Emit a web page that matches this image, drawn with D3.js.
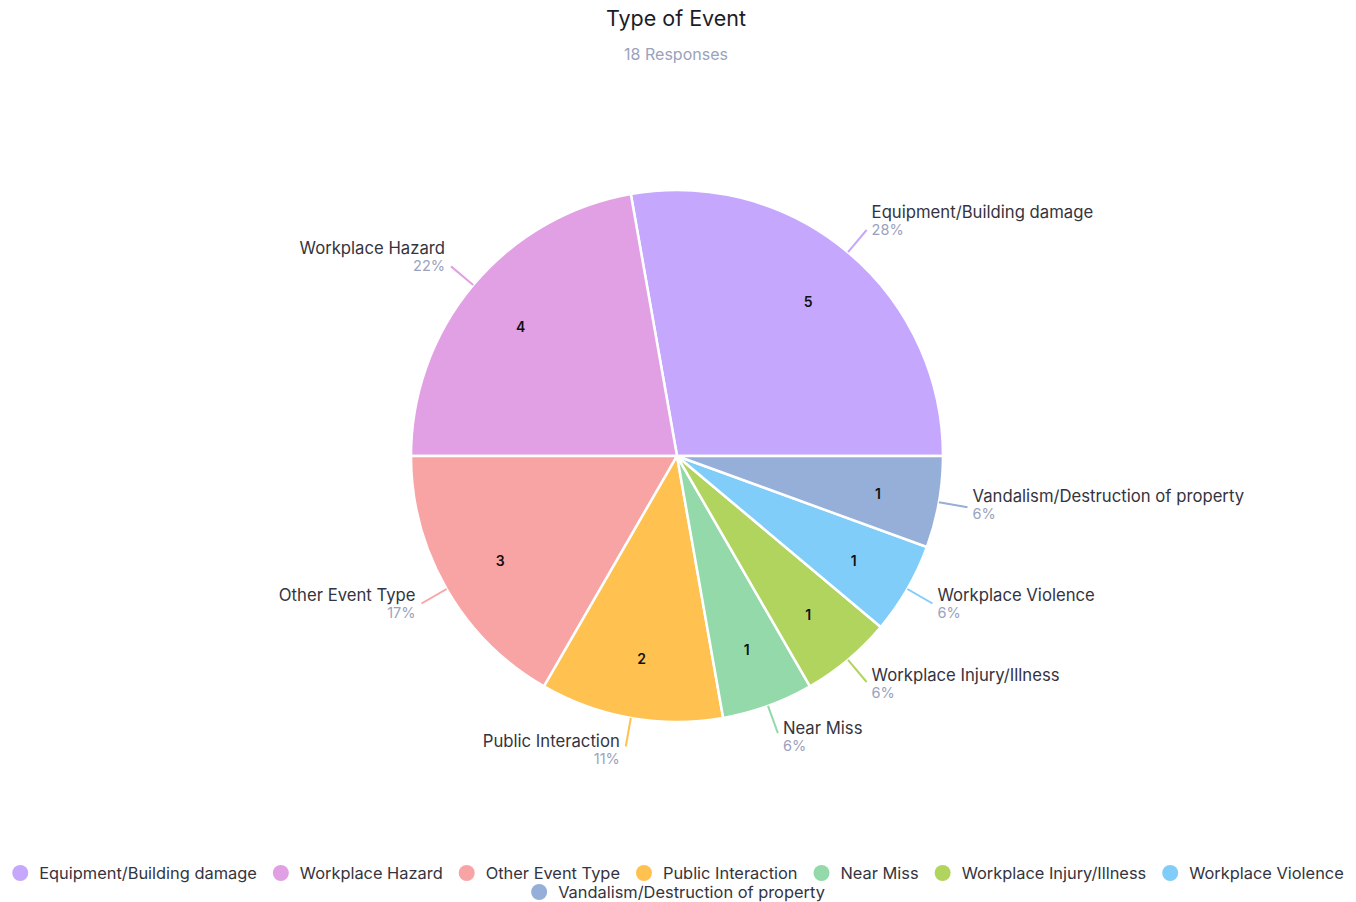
<!DOCTYPE html>
<html><head><meta charset="utf-8">
<script src="https://cdn.jsdelivr.net/npm/d3@7"></script>
<style>
html,body{margin:0;padding:0;background:#fff;}
svg{display:block;font-family:Inter,"Open Sans",sans-serif;}
</style></head>
<body>
<svg id="chart" width="1356" height="902"></svg>
<script>
const categories = ["Equipment/Building damage","Workplace Hazard","Other Event Type","Public Interaction","Near Miss","Workplace Injury/Illness","Workplace Violence","Vandalism/Destruction of property"];
const counts = [5,4,3,2,1,1,1,1];
const percentLabels = ["28%","22%","17%","11%","6%","6%","6%","6%"];
const colors = ["#c5a8fd","#e2a0e4","#f9a4a4","#ffc150","#93d9a9","#b1d45f","#81cdfa","#95afd9"];
const titleText = "Type of Event";
const subtitleText = "18 Responses";

const svg = d3.select("#chart");
const W = 1356, H = 902;
const cx = 677, cy = 456, R = 266;

svg.append("text").attr("x", 676).attr("y", 26).attr("text-anchor","middle")
  .attr("font-size", 21.5).attr("fill","#1c1c28").text(titleText);
svg.append("text").attr("x", 676).attr("y", 60).attr("text-anchor","middle")
  .attr("font-size", 16).attr("fill","#9aa2bd").text(subtitleText);

const data = categories.map((c,i)=>({name:c, value:counts[i], pct:percentLabels[i], color:colors[i]}));
const pie = d3.pie().value(d=>d.value).sort(null)
  .startAngle(Math.PI/2).endAngle(Math.PI/2 - 2*Math.PI);
const arcs = pie(data);
const arc = d3.arc().innerRadius(0).outerRadius(R);
const g = svg.append("g").attr("transform",`translate(${cx},${cy})`);

g.selectAll("path.slice").data(arcs).join("path").attr("class","slice")
  .attr("d", arc).attr("fill", d=>d.data.color)
  .attr("stroke","#fff").attr("stroke-width",2.5).attr("stroke-linejoin","round");

// inner count labels
const inner = d3.arc().innerRadius(R*0.767).outerRadius(R*0.767);
g.selectAll("text.cnt").data(arcs).join("text").attr("class","cnt")
  .attr("x", d=>inner.centroid(d)[0]).attr("y", d=>inner.centroid(d)[1] + 2)
  .attr("text-anchor","middle").attr("dominant-baseline","central")
  .attr("font-size",14).attr("font-weight",600).attr("fill","#111")
  .text(d=>d.data.value);

// outer labels with connectors
arcs.forEach(d=>{
  const mid = (d.startAngle + d.endAngle)/2;
  const sx = Math.sin(mid), sy = -Math.cos(mid);
  const p0 = [sx*R, sy*R], p1 = [sx*(R+29), sy*(R+29)];
  g.append("line").attr("x1",p0[0]).attr("y1",p0[1]).attr("x2",p1[0]).attr("y2",p1[1])
    .attr("stroke", d.data.color).attr("stroke-width",2);
  const right = sx > 0;
  const upper = sy < 0;
  const tx = p1[0] + (right ? 5 : -6);
  const nameY = p1[1] - (upper ? 18 : (5 + 7*(1 - sy)));
  g.append("text").attr("x",tx).attr("y",nameY).attr("dominant-baseline","central")
    .attr("text-anchor", right ? "start":"end").attr("font-size",16.7).attr("fill","#343440")
    .text(d.data.name);
  g.append("text").attr("x",tx).attr("y",nameY+17.5).attr("dominant-baseline","central")
    .attr("text-anchor", right ? "start":"end").attr("font-size",14.5).attr("fill","#9aa2bd")
    .text(d.data.pct);
});

// legend
const lg = svg.append("g");
const maxW = 1340, itemGap = 16, symR = 8, textOff = 27;
const items = data.map(d=>{
  const t = lg.append("text").attr("font-size",16.4).attr("fill","#343440").text(d.name);
  const w = t.node().getComputedTextLength();
  return {d, t, w: textOff + w};
});
const rows = [[]]; let rw = 0;
items.forEach(it=>{
  const add = (rows[rows.length-1].length ? itemGap : 0) + it.w;
  if (rw + add > maxW && rows[rows.length-1].length){ rows.push([it]); rw = it.w; }
  else { rows[rows.length-1].push(it); rw += add; }
});
rows.forEach((row,ri)=>{
  const total = row.reduce((s,it,i)=>s+it.w+(i?itemGap:0),0);
  let x = W/2 - total/2;
  const y = 873 + ri*19;
  row.forEach(it=>{
    lg.append("circle").attr("cx", x+symR).attr("cy", y).attr("r", symR).attr("fill", it.d.color);
    it.t.attr("x", x+textOff).attr("y", y).attr("dominant-baseline","central");
    x += it.w + itemGap;
  });
});
</script>
</body></html>
